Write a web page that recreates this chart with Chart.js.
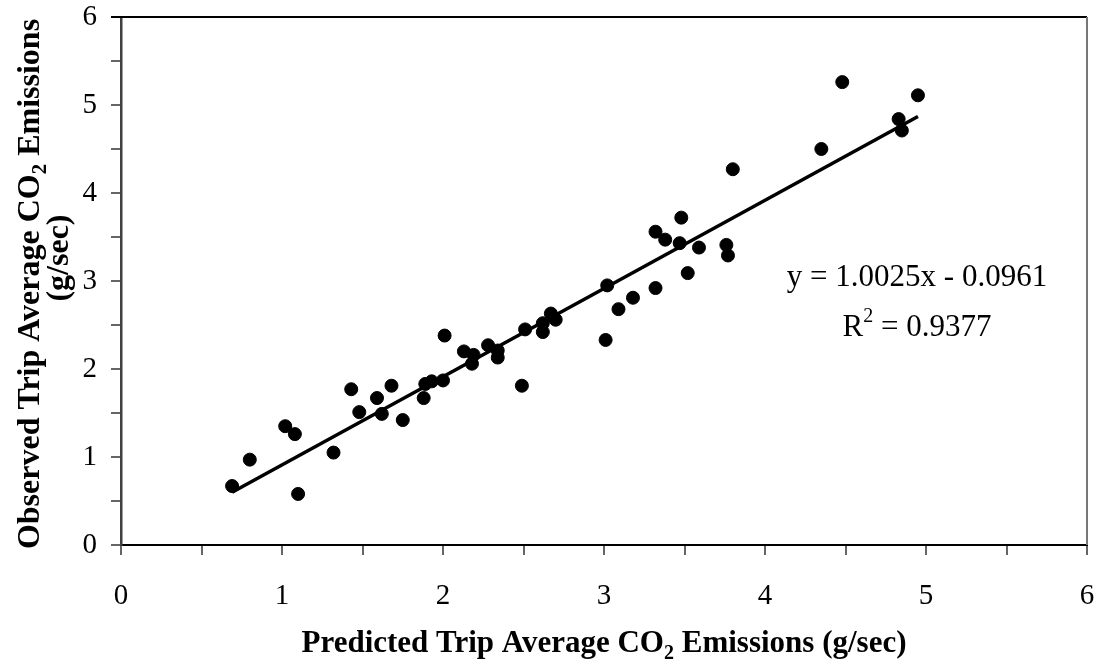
<!DOCTYPE html>
<html>
<head>
<meta charset="utf-8">
<title>Predicted vs Observed CO2</title>
<script src="https://cdn.jsdelivr.net/npm/chart.js@4.4.1/dist/chart.umd.min.js"></script>
<style>
  body { margin: 0; background: #fff; }
  #wrap { width: 1105px; height: 666px; }
</style>
</head>
<body>
<div id="wrap"><canvas id="grafica" width="1105" height="666"></canvas></div>
<script>
// --- data ---
const predX = [0.69, 0.80, 1.02, 1.08, 1.10, 1.32, 1.43, 1.48, 1.59, 1.62, 1.68, 1.75,
               1.88, 1.89, 1.93, 2.00, 2.01, 2.13, 2.19, 2.18, 2.28, 2.34, 2.34, 2.49,
               2.51, 2.62, 2.62, 2.67, 2.70, 3.01, 3.02, 3.09, 3.18, 3.32, 3.32, 3.38,
               3.47, 3.48, 3.52, 3.59, 3.76, 3.77, 3.80, 4.35, 4.48, 4.83, 4.85, 4.95];
const obsY  = [0.67, 0.97, 1.35, 1.26, 0.58, 1.05, 1.77, 1.51, 1.67, 1.49, 1.81, 1.42,
               1.67, 1.83, 1.86, 1.87, 2.38, 2.20, 2.16, 2.06, 2.27, 2.21, 2.13, 1.81,
               2.45, 2.52, 2.42, 2.63, 2.56, 2.33, 2.95, 2.68, 2.81, 2.92, 3.56, 3.47,
               3.43, 3.72, 3.09, 3.38, 3.41, 3.29, 4.27, 4.50, 5.26, 4.84, 4.71, 5.11];

// trend line ends (as drawn in the picture)
const trendX = [0.69, 4.95];
const trendY = [0.60, 4.87];

const axisMin = 0, axisMax = 6, tickStep = 0.5;
const eqText  = 'y = 1.0025x - 0.0961';
const r2Text  = '0.9377';
const xTitle  = ['Predicted Trip Average CO', '2', ' Emissions (g/sec)'];
const yTitle1 = ['Observed Trip Average CO', '2', ' Emissions'];
const yTitle2 = '(g/sec)';

const SERIF = '"Liberation Serif", "Times New Roman", serif';

// draws a text made of [normal, subscript, normal] pieces centered at x,y
function drawSubText(ctx, parts, x, y, size) {
    const big = 'bold ' + size + 'px ' + SERIF;
    const small = 'bold ' + Math.round(size * 0.65) + 'px ' + SERIF;
    ctx.font = big;
    const w0 = ctx.measureText(parts[0]).width;
    const w2 = ctx.measureText(parts[2]).width;
    ctx.font = small;
    const w1 = ctx.measureText(parts[1]).width;
    let cx = x - (w0 + w1 + w2) / 2;
    ctx.textAlign = 'left';
    ctx.textBaseline = 'alphabetic';
    ctx.font = big;
    ctx.fillText(parts[0], cx, y);
    cx += w0;
    ctx.font = small;
    ctx.fillText(parts[1], cx, y + size * 0.22);
    cx += w1;
    ctx.font = big;
    ctx.fillText(parts[2], cx, y);
}

const extras = {
    id: 'extras',
    afterDraw(chart) {
        const ctx = chart.ctx;
        const a = chart.chartArea;
        ctx.save();
        // frame: top and right
        ctx.strokeStyle = '#000';
        ctx.lineWidth = 2;
        ctx.beginPath();
        ctx.moveTo(a.left - 10, a.top);
        ctx.lineTo(a.right, a.top);
        ctx.stroke();
        ctx.strokeStyle = '#777';
        ctx.beginPath();
        ctx.moveTo(a.right, a.top);
        ctx.lineTo(a.right, a.bottom);
        ctx.stroke();

        ctx.fillStyle = '#000';
        // equation
        ctx.font = '31px ' + SERIF;
        ctx.textAlign = 'center';
        ctx.textBaseline = 'alphabetic';
        ctx.fillText(eqText, 917, 286);
        const rW = ctx.measureText('R').width;
        const restW = ctx.measureText(' = ' + r2Text).width;
        ctx.font = '20px ' + SERIF;
        const supW = ctx.measureText('2').width;
        let sx = 917 - (rW + supW + restW) / 2;
        ctx.textAlign = 'left';
        ctx.font = '31px ' + SERIF;
        ctx.fillText('R', sx, 336);
        ctx.font = '20px ' + SERIF;
        ctx.fillText('2', sx + rW, 322);
        ctx.font = '31px ' + SERIF;
        ctx.fillText(' = ' + r2Text, sx + rW + supW, 336);

        // x axis title
        drawSubText(ctx, xTitle, (a.left + a.right) / 2, 652, 31);

        // y axis title (rotated)
        ctx.save();
        ctx.translate(39, 284);
        ctx.rotate(-Math.PI / 2);
        drawSubText(ctx, yTitle1, 0, 0, 32);
        ctx.restore();
        ctx.save();
        ctx.translate(68, 258);
        ctx.rotate(-Math.PI / 2);
        ctx.font = 'bold 32px ' + SERIF;
        ctx.textAlign = 'center';
        ctx.fillText(yTitle2, 0, 0);
        ctx.restore();

        ctx.restore();
    }
};

const tickFn = v => (Math.abs(v - Math.round(v)) < 1e-6 ? String(Math.round(v)) : '');

new Chart(document.getElementById('grafica'), {
    type: 'scatter',
    data: {
        datasets: [{
            label: 'Observed',
            data: predX.map((x, i) => ({ x: x, y: obsY[i] })),
            backgroundColor: '#000',
            borderColor: '#000',
            pointRadius: 6.5,
            order: 1
        }, {
            label: 'Linear',
            type: 'line',
            data: trendX.map((x, i) => ({ x: x, y: trendY[i] })),
            borderColor: '#000',
            borderWidth: 3.5,
            pointRadius: 0,
            fill: false,
            order: 2
        }]
    },
    options: {
        responsive: false,
        animation: false,
        layout: { padding: { left: 0, top: 17, right: 18, bottom: 0 } },
        plugins: {
            legend: { display: false },
            tooltip: { enabled: false }
        },
        scales: {
            x: {
                type: 'linear',
                min: axisMin, max: axisMax,
                afterFit: s => { s.height = 121; s.paddingLeft = 0; s.paddingRight = 0; },
                border: { display: true, color: '#000', width: 2 },
                grid: { drawOnChartArea: false, drawTicks: true, tickLength: 10, color: '#666', lineWidth: 2 },
                ticks: { stepSize: tickStep, autoSkip: false, maxRotation: 0, padding: 24, color: '#000',
                         font: { family: SERIF, size: 29 }, callback: tickFn }
            },
            y: {
                type: 'linear',
                min: axisMin, max: axisMax,
                afterFit: s => { s.width = 121; s.paddingTop = 0; s.paddingBottom = 0; },
                border: { display: true, color: '#404040', width: 2.5 },
                grid: { drawOnChartArea: false, drawTicks: true, tickLength: 10, color: '#666', lineWidth: 2 },
                ticks: { stepSize: tickStep, autoSkip: false, padding: 14, color: '#000',
                         font: { family: SERIF, size: 29 }, callback: tickFn }
            }
        }
    },
    plugins: [extras]
});
</script>
</body>
</html>
